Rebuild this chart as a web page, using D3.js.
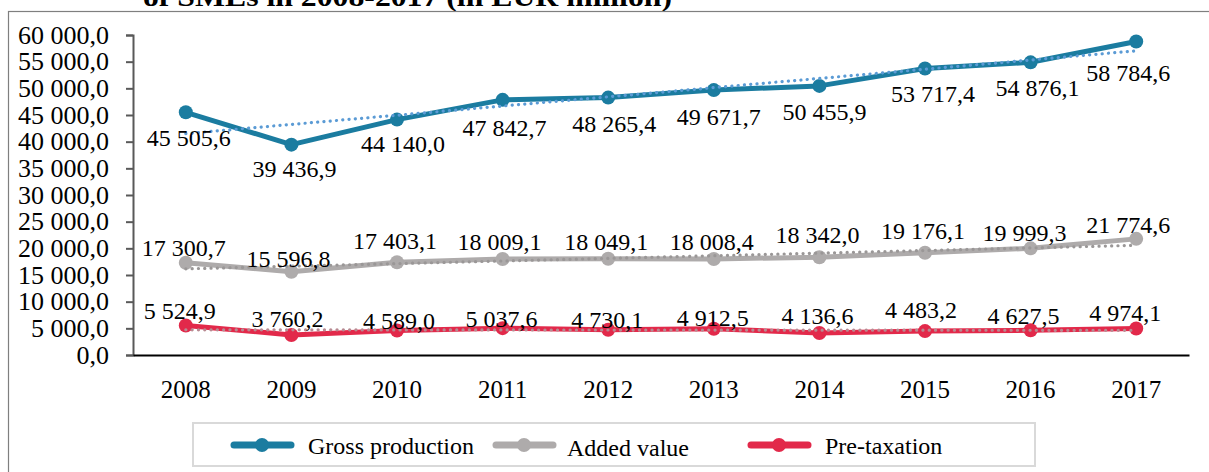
<!DOCTYPE html>
<html>
<head>
<meta charset="utf-8">
<script src="https://cdn.jsdelivr.net/npm/d3@7"></script>
<style>
  body { margin: 0; background: #fff; }
</style>
</head>
<body>
<div id="chart"></div>
<script>
const years = ["2008", "2009", "2010", "2011", "2012", "2013", "2014", "2015", "2016", "2017"];
const grossProduction = [45505.6, 39436.9, 44140.0, 47842.7, 48265.4, 49671.7, 50455.9, 53717.4, 54876.1, 58784.6];
const addedValue = [17300.7, 15596.8, 17403.1, 18009.1, 18049.1, 18008.4, 18342.0, 19176.1, 19999.3, 21774.6];
const preTaxation = [5524.9, 3760.2, 4589.0, 5037.6, 4730.1, 4912.5, 4136.6, 4483.2, 4627.5, 4974.1];
const yTicks = [0, 5000, 10000, 15000, 20000, 25000, 30000, 35000, 40000, 45000, 50000, 55000, 60000];

const series = [
  { name: "Gross production", values: grossProduction, color: "#1b7ca0", trend: "#5b9bd5",
    dx: [3, 3, 6, 2, 6, 5, 5, 8, 7, -8], dy: [26, 24, 24, 28, 26, 27, 26, 25, 26, 32] },
  { name: "Added value", values: addedValue, color: "#aeabab", trend: "#9a9797",
    dx: [-2, -3, -2, -3, -2, -2, -2, -2, -6, -8], dy: [-15, -13, -21, -17, -17, -17, -22, -22, -15, -14] },
  { name: "Pre-taxation", values: preTaxation, color: "#e2294a", trend: "#b88a92",
    dx: [-6, -4, 2, -1, -1, -1, -2, -4, -7, -11], dy: [-15, -16, -10, -9, -10, -11, -17, -21, -14, -15] }
];

const FONT = "'Liberation Serif', 'Times New Roman', Times, serif";
const width = 1209, height = 472;
const mLeft = 133, mRight = 1189, mTop = 35, mBottom = 355;

const svg = d3.select("#chart").append("svg")
  .attr("width", width)
  .attr("height", height)
  .style("font-family", FONT);

// title (cut off at the top in the source)
svg.append("text")
  .attr("x", 143)
  .attr("y", 6)
  .attr("textLength", 529)
  .attr("lengthAdjust", "spacingAndGlyphs")
  .style("font-family", FONT)
  .style("font-weight", "bold")
  .style("font-size", "28px")
  .text("of SMEs in 2008-2017 (in EUR million)");

// outer frame
svg.append("rect")
  .attr("x", 8.5).attr("y", 11.5)
  .attr("width", 1215).attr("height", 470)
  .attr("fill", "none")
  .attr("stroke", "#7f7f7f")
  .attr("stroke-width", 1.2);

const x = d3.scaleBand().domain(years).range([mLeft, mRight]);
const y = d3.scaleLinear().domain([0, 60000]).range([mBottom, mTop]);
const cx = d => x(d) + x.bandwidth() / 2;

const fmt = v => d3.format(",.1f")(v).replace(/,/g, " ").replace(".", ",");

// y axis
const yAxis = svg.append("g")
  .attr("transform", `translate(${mLeft},0)`)
  .call(d3.axisLeft(y).tickValues(yTicks).tickSize(7).tickPadding(17).tickFormat(fmt));
yAxis.attr("font-family", null);
yAxis.select(".domain").attr("stroke", "#595959").attr("stroke-width", 2);
yAxis.selectAll(".tick line").attr("stroke", "#595959").attr("stroke-width", 2);
yAxis.selectAll(".tick text")
  .style("font-size", "26px")
  .style("font-family", FONT)
  .attr("fill", "#000");

// x axis
const xAxis = svg.append("g")
  .attr("transform", `translate(0,${mBottom})`)
  .call(d3.axisBottom(x).tickSize(0).tickPadding(25));
xAxis.attr("font-family", null);
xAxis.select(".domain").attr("stroke", "#000").attr("stroke-width", 2);
xAxis.selectAll(".tick text")
  .style("font-size", "25px")
  .style("font-family", FONT)
  .attr("fill", "#000");

// linear trend lines (least squares, like the spreadsheet trendline)
const trendOf = vals => {
  const n = vals.length;
  const mx = d3.mean(vals, (v, i) => i);
  const my = d3.mean(vals);
  const b = d3.sum(vals, (v, i) => (i - mx) * (v - my)) / d3.sum(vals, (v, i) => (i - mx) * (i - mx));
  const a = my - b * mx;
  return [[0, a], [n - 1, a + b * (n - 1)]];
};

const line = d3.line()
  .x((v, i) => cx(years[i]))
  .y(v => y(v));

series.forEach(s => {
  svg.append("path")
    .datum(s.values)
    .attr("d", line)
    .attr("fill", "none")
    .attr("stroke", s.color)
    .attr("stroke-width", 5)
    .attr("stroke-linejoin", "round");

  svg.selectAll(null)
    .data(s.values)
    .enter()
    .append("circle")
    .attr("cx", (v, i) => cx(years[i]))
    .attr("cy", v => y(v))
    .attr("r", 7)
    .attr("fill", s.color);

  const t = trendOf(s.values);
  svg.append("line")
    .attr("x1", cx(years[t[0][0]])).attr("y1", y(t[0][1]))
    .attr("x2", cx(years[t[1][0]])).attr("y2", y(t[1][1]))
    .attr("stroke", s.trend)
    .attr("stroke-width", 3.2)
    .attr("stroke-linecap", "round")
    .attr("stroke-dasharray", "0.1 6.2");

  svg.selectAll(null)
    .data(s.values)
    .enter()
    .append("text")
    .attr("x", (v, i) => cx(years[i]) + s.dx[i])
    .attr("y", (v, i) => y(v) + s.dy[i])
    .attr("text-anchor", "middle")
    .attr("dominant-baseline", "central")
    .style("font-family", FONT)
    .style("font-size", "24px")
    .attr("fill", "#000")
    .text(v => fmt(v));
});

// legend
svg.append("rect")
  .attr("x", 193).attr("y", 423)
  .attr("width", 842).attr("height", 43)
  .attr("fill", "#fff")
  .attr("stroke", "#d9d9d9")
  .attr("stroke-width", 2);

const legendX = [234, 496, 751];
const legend = svg.selectAll(".legend")
  .data(series)
  .enter()
  .append("g")
  .attr("transform", (d, i) => `translate(${legendX[i]},445)`);

legend.append("line")
  .attr("x1", 0).attr("x2", 57)
  .attr("stroke", d => d.color)
  .attr("stroke-width", 7)
  .attr("stroke-linecap", "round");

legend.append("circle")
  .attr("cx", 28).attr("r", 7)
  .attr("fill", d => d.color);

legend.append("text")
  .attr("x", (d, i) => i === 1 ? 71 : 74)
  .attr("y", (d, i) => i === 1 ? 3 : 1)
  .attr("dominant-baseline", "central")
  .style("font-family", FONT)
  .style("font-size", "24px")
  .attr("fill", "#000")
  .text(d => d.name);
</script>
</body>
</html>
